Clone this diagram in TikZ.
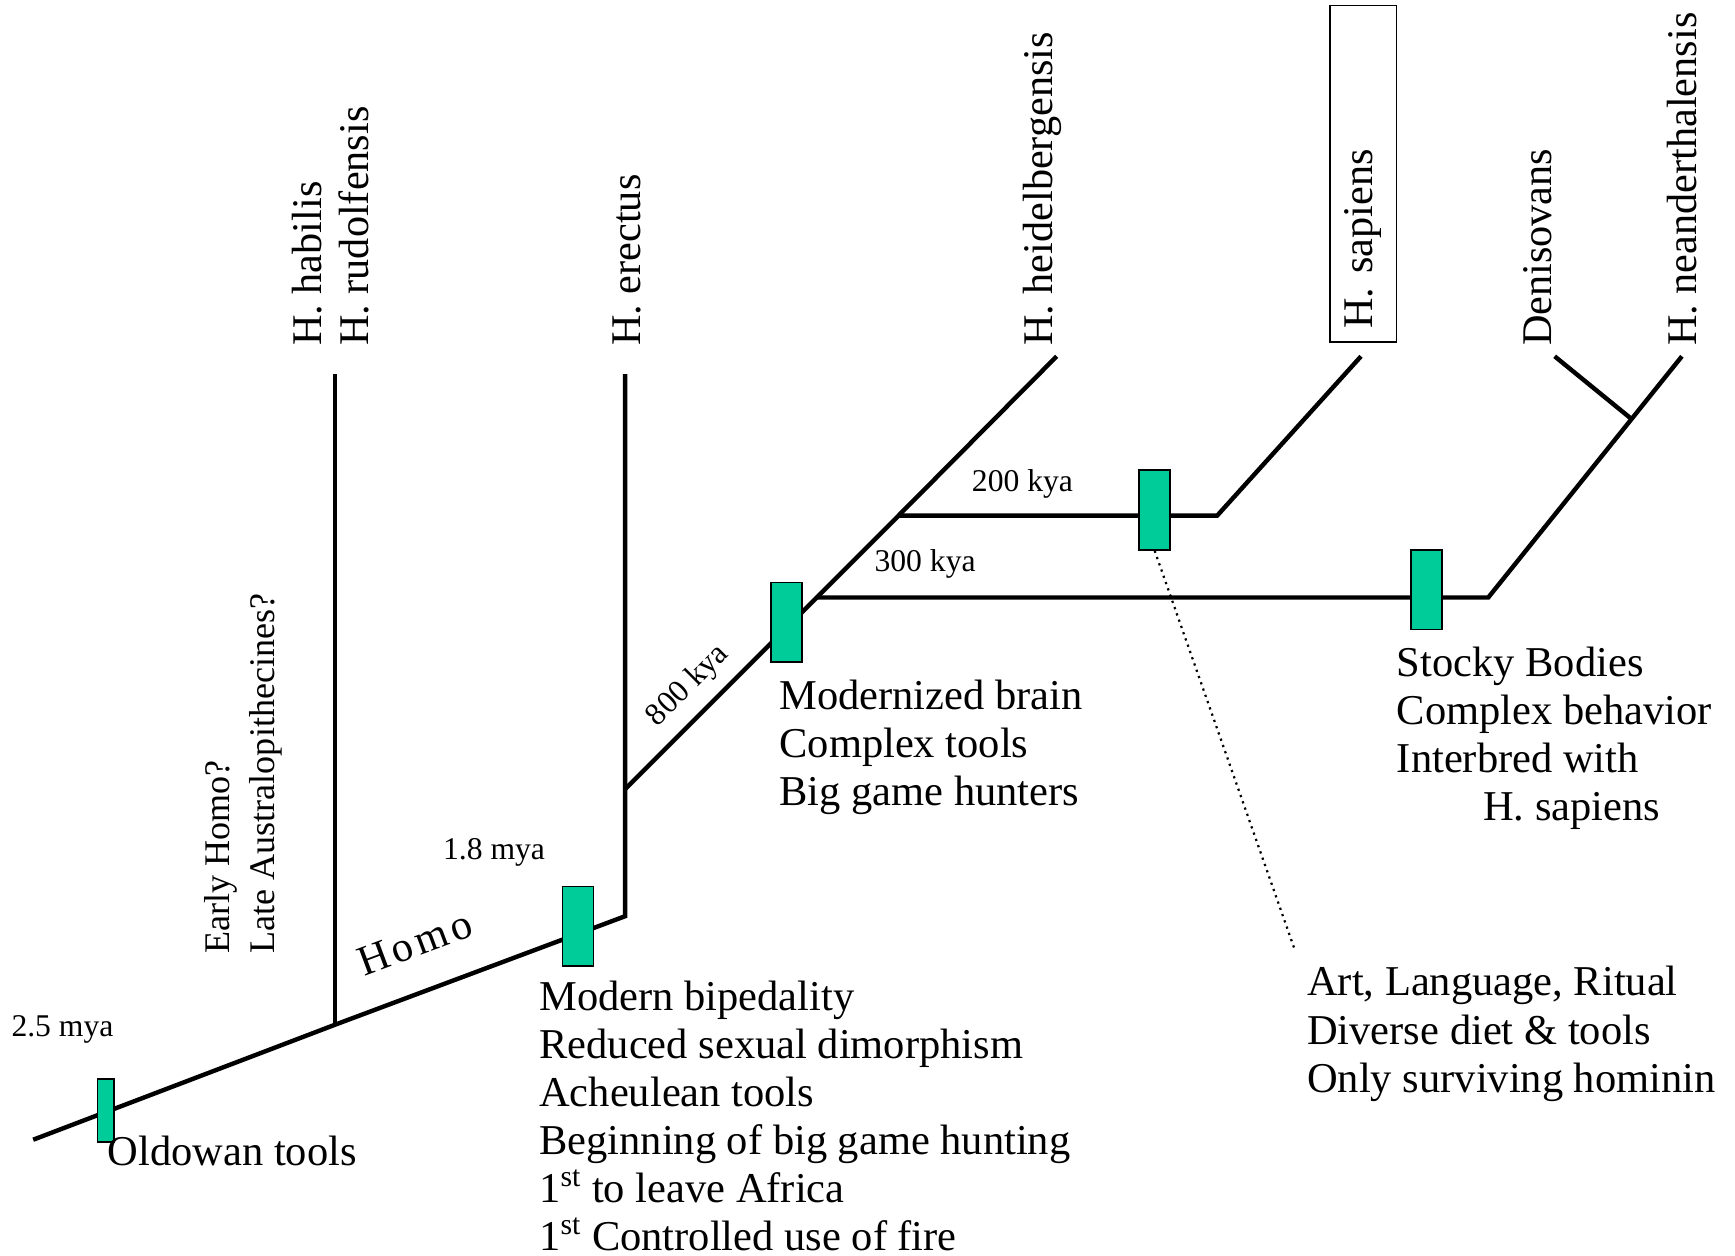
\documentclass[tikz,border=0pt]{standalone}
\usepackage{fontspec}
\setmainfont{Liberation Serif}
\usetikzlibrary{calc,positioning}
\definecolor{markgreen}{RGB}{0,204,153}
\newcommand{\bigtxt}{\fontsize{19.2pt}{21.75pt}\selectfont}
\newcommand{\smalltxt}{\fontsize{14.3pt}{17pt}\selectfont}
\newcommand{\spectxt}{\fontsize{19.1pt}{21pt}\selectfont}
\newcommand{\qtxt}{\fontsize{16.3pt}{20.5pt}\selectfont}

\begin{document}
\begin{tikzpicture}[x=0.5pt,y=-0.5pt]
    \tikzstyle{every node}=[inner sep=0pt]
    \tikzstyle{branch}=[line width=2pt]
    \tikzstyle{event}=[draw,line width=0.7pt,fill=markgreen,minimum width=14pt,
                       minimum height=36pt]
    \tikzstyle{note}=[anchor=north west,align=left,font=\bigtxt]
    \tikzstyle{date}=[anchor=west,font=\smalltxt]
    \tikzstyle{taxon}=[rotate=90,anchor=west,align=left,font=\spectxt]

    \useasboundingbox (0,0) rectangle (1568,1135);

    % the tree: forks and tips
    \coordinate (root) at (30,1030);
    \coordinate (habfork) at (303,926);
    \coordinate (habtop) at (303,338);
    \coordinate (erebend) at (565,828);
    \coordinate (eretop) at (565,338);
    \coordinate (erefork) at (565,713);
    \coordinate (fork300) at (738,540);
    \coordinate (fork200) at (812,466);
    \coordinate (heitop) at (955,322);
    \coordinate (bend200) at (1100,466);
    \coordinate (saptop) at (1230,322);
    \coordinate (bend300) at (1345,540);
    \coordinate (neatop) at (1520,322);
    \coordinate (denfork) at ($(bend300)!0.74!(neatop)$);
    \coordinate (dentop) at (1405,322);

    \draw [branch] (root) -- (habfork) -- (erebend) -- (eretop);
    \draw [branch] (habfork) -- (habtop);
    \draw [branch] (erefork) -- (fork300) -- (fork200) -- (heitop);
    \draw [branch] (fork300) -- (bend300) -- (neatop);
    \draw [branch] (fork200) -- (bend200) -- (saptop);
    \draw [branch] (denfork) -- (dentop);

    % green markers
    \node (oldowan) [event,minimum width=7.5pt,minimum height=28.5pt] at (95.5,1003.5) {};
    \node (biped) [event] at (522.5,837) {};
    \node (brain) [event] at (711,562.5) {};
    \node (modern) [event] at (1043.5,461) {};
    \node (stocky) [event] at (1289,533) {};

    \coordinate (artend) at (1170,858);
    \draw [dotted,line width=1pt] (modern.south) -- (artend);

    % dates
    \node [date] at (10,930) {2.5 mya};
    \node [date] at (400,770) {1.8 mya};
    \node [date] at (790,510) {300 kya};
    \node [date] at (878,437) {200 kya};
    \node [font=\smalltxt,rotate=45] at (622,620) {800 kya};
    \node [font=\bigtxt\addfontfeature{LetterSpace=10},rotate=20.5] at (375,852) {Homo};

    % names at the tips
    \node [taxon,font=\qtxt] at (220,862) {Early Homo?\\Late Australopithecines?};
    \node [taxon] at (299,313) {H. habilis\\H. rudolfensis};
    \node [taxon] at (567,313) {H. erectus};
    \node [taxon] at (942,313) {H. heidelbergensis};
    \node (sapiens) [draw,line width=0.7pt,rotate=90,font=\spectxt,align=left,
                     text width=140pt,inner xsep=6pt,minimum height=30pt]
                     at (1232,157) {H. sapiens};
    \node [taxon] at (1390,313) {Denisovans};
    \node [taxon] at (1520,313) {H. neanderthalensis};

    % traits
    \node [note] at (97,1026) {Oldowan tools};
    \node [note] at (487,886) {Modern bipedality\\Reduced sexual dimorphism\\
        Acheulean tools\\Beginning of big game hunting\\
        1\textsuperscript{st} to leave Africa\\1\textsuperscript{st} Controlled use of fire};
    \node [note] at (704,614) {Modernized brain\\Complex tools\\Big game hunters};
    \node [note] at (1262,584) {Stocky Bodies\\Complex behavior\\Interbred with\\
        \hspace*{39pt}H. sapiens};
    \node [note] at (1181,873) {Art, Language, Ritual\\Diverse diet \& tools\\
        Only surviving hominin};
\end{tikzpicture}
\end{document}
